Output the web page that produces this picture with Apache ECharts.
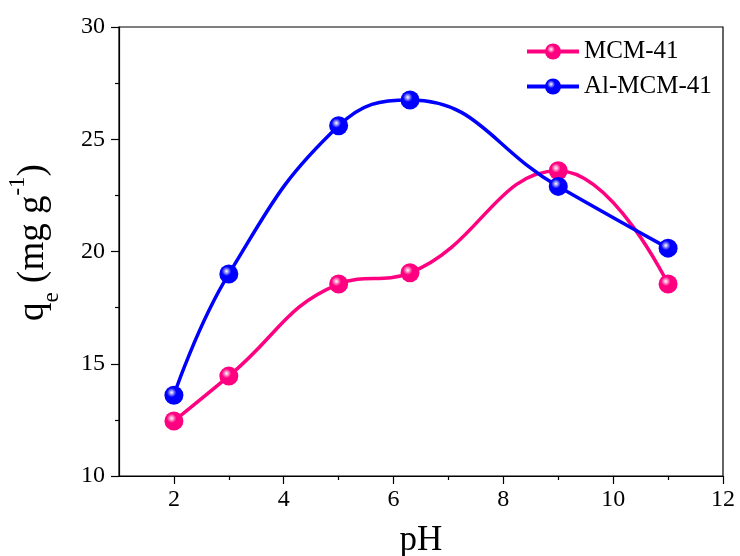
<!DOCTYPE html>
<html>
<head>
<meta charset="utf-8">
<script src="https://cdn.jsdelivr.net/npm/echarts@6/dist/echarts.min.js"></script>
<style>html,body{margin:0;padding:0;background:#fff}#c{width:740px;height:556px}</style>
</head>
<body>
<div id="c"></div>
<script>
var pH = [2, 3, 5, 6.3, 9, 11];
var mcm41 = [12.45, 14.45, 18.55, 19.05, 23.6, 18.55];
var alMcm41 = [13.6, 19.0, 25.6, 26.75, 22.9, 20.15];
var seriesNames = ['MCM-41', 'Al-MCM-41'];
var xTicks = [2, 4, 6, 8, 10, 12];
var xMinorTicks = [3, 5, 7, 9, 11];
var yTicks = [10, 15, 20, 25, 30];

function pairs(xs, ys) { return xs.map(function (x, i) { return [x, ys[i]]; }); }
function ball(c) {
  return {
    type: 'radial', x: 0.38, y: 0.36, r: 0.7,
    colorStops: [{offset: 0, color: '#ffffff'}, {offset: 0.35, color: c}, {offset: 1, color: c}]
  };
}
var font = 'Liberation Serif, Times New Roman, serif';
var chart = echarts.init(document.getElementById('c'));
function mkSeries(name, data, c) {
  return {
    name: name, type: 'line', data: pairs(pH, data), smooth: 0.45,
    symbol: 'circle', symbolSize: 19,
    lineStyle: {color: c, width: 3.5},
    itemStyle: {color: ball(c), borderWidth: 0},
    emphasis: {disabled: true}
  };
}
var axisLine = {lineStyle: {color: '#000', width: 1.2}};
chart.setOption({
  animation: false,
  backgroundColor: '#fff',
  grid: {left: 119, right: 17, top: 27, bottom: 80, show: true, borderColor: '#000', borderWidth: 1.2,
    containLabel: false, outerBoundsMode: 'none'},
  legend: {
    left: 520, top: 34, orient: 'vertical', itemWidth: 52, itemHeight: 20, itemGap: 10,
    lineStyle: {width: 4},
    textStyle: {fontFamily: font, fontSize: 25, color: '#000'},
    data: seriesNames
  },
  xAxis: [{
    type: 'value', min: 1, max: 12,
    name: 'pH', nameLocation: 'middle', nameGap: 47,
    nameTextStyle: {fontFamily: font, fontSize: 35, color: '#000'},
    axisLine: axisLine,
    axisTick: {show: true, length: 8, customValues: xTicks, lineStyle: {color: '#000', width: 1.2}},
    axisLabel: {fontFamily: font, fontSize: 24, color: '#000', margin: 12, customValues: xTicks},
    splitLine: {show: false}
  }, {
    type: 'value', min: 1, max: 12, position: 'bottom',
    axisLine: {show: false},
    axisTick: {show: true, length: 4, customValues: xMinorTicks, lineStyle: {color: '#000', width: 1.2}},
    axisLabel: {show: false},
    splitLine: {show: false}
  }],
  yAxis: {
    type: 'value', min: 10, max: 30, interval: 5,
    name: '{b|q}{s|e}{b| (mg g}{p|-1}{b|)}', nameLocation: 'middle', nameGap: 64, nameRotate: 90,
    nameTextStyle: {
      fontFamily: font, fontSize: 37, color: '#000', padding: [0, 0, 0, 18],
      rich: {
        b: {fontFamily: font, fontSize: 37, color: '#000', lineHeight: 44, verticalAlign: 'middle'},
        s: {fontFamily: font, fontSize: 23, color: '#000', lineHeight: 44, verticalAlign: 'bottom', padding: [0, 0, -8, 0]},
        p: {fontFamily: font, fontSize: 23, color: '#000', lineHeight: 44, verticalAlign: 'top', padding: [-5, 0, 0, 0]}
      }
    },
    axisLine: axisLine,
    axisTick: {show: true, length: 8, lineStyle: {color: '#000', width: 1.2}},
    minorTick: {show: true, splitNumber: 2, length: 4, lineStyle: {color: '#000', width: 1.2}},
    axisLabel: {fontFamily: font, fontSize: 24, color: '#000', margin: 14},
    splitLine: {show: false}
  },
  series: [
    mkSeries(seriesNames[0], mcm41, '#ff0080'),
    mkSeries(seriesNames[1], alMcm41, '#0000ff')
  ]
});
</script>
</body>
</html>
